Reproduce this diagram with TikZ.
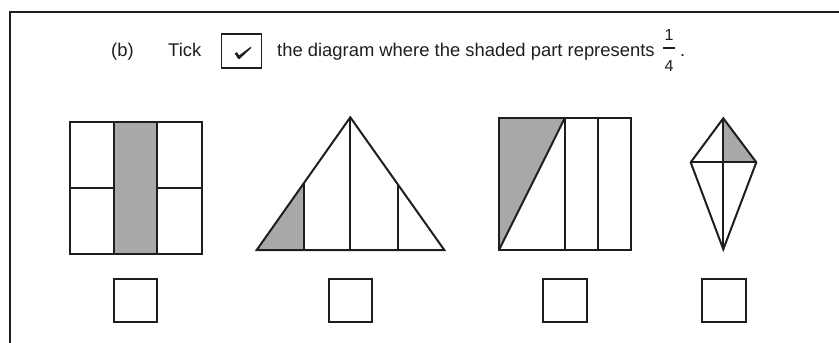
\documentclass[tikz,border=0pt]{standalone}
\usepackage{fontspec}
\setmainfont{Liberation Sans}
\definecolor{ink}{HTML}{1E1E1E}
\definecolor{shade}{HTML}{A8A8A8}
\tikzset{
  edge/.style={draw=ink, line width=2pt, line join=miter},
  fillshade/.style={fill=shade},
  cbox/.style={draw=ink, line width=2pt},
  txt/.style={inner sep=0pt, anchor=base west, font=\fontsize{18.4}{20}\selectfont, text=ink},
  frac/.style={inner sep=0pt, anchor=base, font=\fontsize{16}{17}\selectfont, text=ink}
}
\begin{document}
\begin{tikzpicture}[x=1pt,y=-1pt]
\useasboundingbox (0,0) rectangle (839,343);
% frame
\draw[ink, line width=2.2pt] (10,343) -- (10,12.3) -- (839,12.3);
% header
\node[txt] (lab) at (111,56.7) {(b)};
\node[txt] (tick) at (168,56.7) {Tick};
\draw[cbox, line width=1.6pt] (221.5,34) rectangle (261.5,68);
\fill[ink] (234.7,53.6) -- (236.8,52.2) -- (239.2,55.4) -- (250.6,46.8) -- (251.4,47.8)
  -- (239.8,58.8) -- (238.2,58.8) -- cycle;
\node[txt] (sent) at (277,56.7) {the diagram where the shaded part represents};
\node[frac] (one) at (669,40.2) {1};
\node[frac] (four) at (669,71.7) {4};
\draw[ink, line width=2pt] (663,48.3) -- (675,48.3);
\node[txt] (dot) at (680,56.7) {.};
% figure 1: square
\fill[fillshade] (113.7,122.3) rectangle (157.3,254);
\draw[edge] (70,122.3) rectangle (201.7,254);
\draw[edge] (113.7,122.3) -- (113.7,254);
\draw[edge] (157.3,122.3) -- (157.3,254);
\draw[edge] (70,187.7) -- (113.7,187.7);
\draw[edge] (157.3,187.7) -- (201.7,187.7);
\draw[cbox] (114.3,279) rectangle (157.3,322.3);
% figure 2: triangle
\coordinate (tA) at (350.3,117.3);
\coordinate (tL) at (256.7,250);
\coordinate (tR) at (444.3,250);
\fill[fillshade] (tL) -- (304,183.2) -- (304,250) -- cycle;
\draw[edge] (tL) -- (tA) -- (tR) -- cycle;
\draw[edge] (304,183.2) -- (304,250);
\draw[edge] (tA) -- (350.3,250);
\draw[edge] (397.7,184.0) -- (397.7,250);
\draw[cbox] (328.7,279) rectangle (372.3,322.3);
% figure 3: rectangle
\fill[fillshade] (499,118.3) -- (564.7,118.3) -- (499,250) -- cycle;
\draw[edge] (499,118.3) rectangle (630.7,250);
\draw[edge] (564.7,118.3) -- (564.7,250);
\draw[edge] (597.7,118.3) -- (597.7,250);
\draw[edge] (499,250) -- (564.7,118.3);
\draw[cbox] (542.7,279) rectangle (586.7,322.3);
% figure 4: kite
\coordinate (kT) at (723.3,118.3);
\coordinate (kL) at (690.7,162.3);
\coordinate (kR) at (756.3,162.3);
\coordinate (kB) at (723.3,249.3);
\coordinate (kC) at (723.3,162.3);
\fill[fillshade] (kT) -- (kR) -- (kC) -- cycle;
\draw[edge] (kT) -- (kR) -- (kB) -- (kL) -- cycle;
\draw[edge] (kL) -- (kR);
\draw[edge] (kT) -- (kB);
\draw[cbox] (701.7,279) rectangle (745.7,322.3);
\end{tikzpicture}
\end{document}
